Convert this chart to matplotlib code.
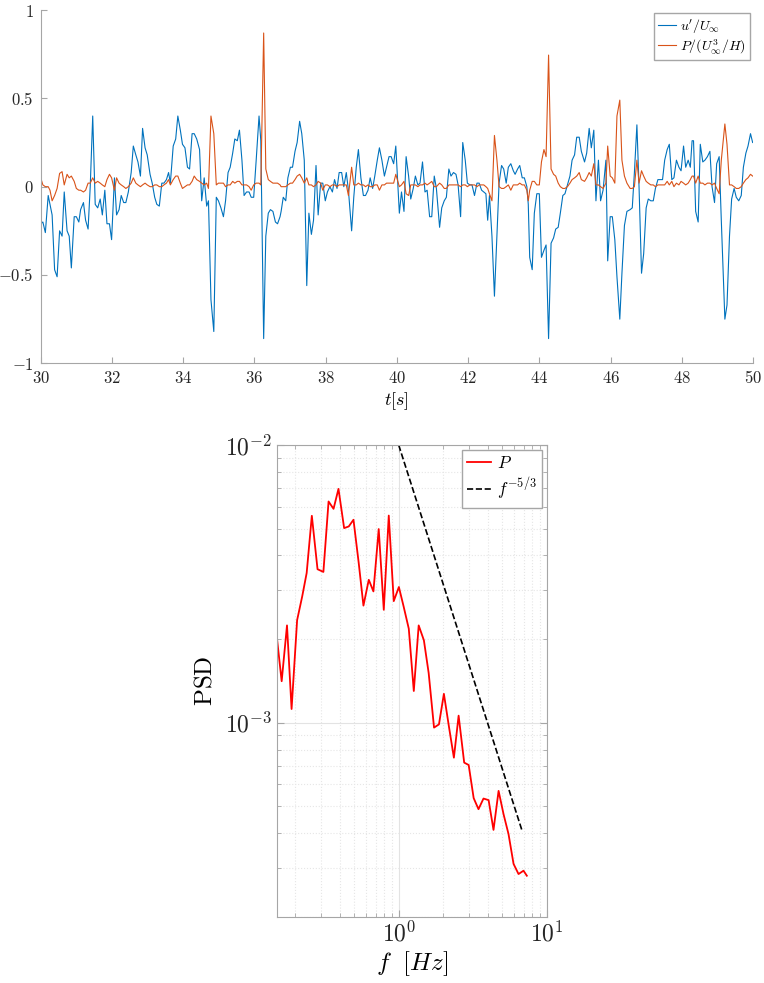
import numpy as np
import matplotlib
matplotlib.use('Agg')
import matplotlib.pyplot as plt
from matplotlib.ticker import FuncFormatter, LogLocator, NullFormatter

plt.rcParams['mathtext.fontset'] = 'cm'
plt.rcParams['font.family'] = ['DejaVu Serif']

# time series
t = [30.00, 30.06, 30.13, 30.21, 30.26, 30.32, 30.39, 30.46, 30.53, 30.60,
     30.66, 30.74, 30.80, 30.86, 30.94, 31.00, 31.07, 31.12, 31.20, 31.26,
     31.33, 31.39, 31.46, 31.53, 31.60, 31.67, 31.73, 31.80, 31.86, 31.93,
     31.99, 32.07, 32.13, 32.20, 32.26, 32.33, 32.39, 32.46, 32.54, 32.60,
     32.67, 32.73, 32.80, 32.86, 32.93, 32.99, 33.07, 33.13, 33.20, 33.26,
     33.33, 33.40,
     33.46, 33.53, 33.59, 33.64, 33.72, 33.79, 33.85, 33.92, 33.98, 34.05,
     34.12, 34.18, 34.25, 34.31, 34.38, 34.46, 34.52, 34.59, 34.66, 34.71,
     34.78, 34.86, 34.93, 34.99, 35.06, 35.13, 35.19, 35.26, 35.32, 35.39,
     35.45, 35.52, 35.58, 35.65, 35.71, 35.78, 35.85, 35.91, 35.98, 36.05,
     36.13, 36.18, 36.26, 36.32, 36.39, 36.45, 36.52, 36.59, 36.65, 36.72,
     36.75, 36.81, 36.88, 36.94, 37.01, 37.07, 37.14, 37.20, 37.27, 37.33,
     37.40, 37.47, 37.53, 37.60, 37.66, 37.73, 37.79, 37.86, 37.92, 37.99,
     38.05, 38.12, 38.19, 38.25, 38.32, 38.38, 38.45, 38.51, 38.58, 38.64,
     38.73, 38.79, 38.86, 38.92, 38.99, 39.06, 39.12, 39.19, 39.25, 39.32,
     39.38, 39.45, 39.51, 39.58, 39.65, 39.71, 39.78, 39.84, 39.91, 39.97,
     40.07, 40.13, 40.20, 40.26, 40.33, 40.39, 40.46, 40.52, 40.59, 40.65,
     40.72, 40.79, 40.85, 40.92, 40.98, 41.05, 41.11, 41.20, 41.26, 41.33,
     41.39, 41.46, 41.52, 41.59, 41.66, 41.72, 41.79, 41.85, 41.92, 41.98,
     42.05, 42.11, 42.18, 42.25, 42.31, 42.38, 42.44, 42.50, 42.55, 42.60,
     42.67, 42.74, 42.81, 42.87, 42.94, 43.00, 43.07, 43.13, 43.20, 43.27,
     43.32, 43.39, 43.45, 43.52, 43.58, 43.65, 43.69, 43.73, 43.80, 43.86,
     43.93, 44.00, 44.06, 44.13, 44.19, 44.26, 44.33, 44.40, 44.46, 44.53,
     44.59, 44.66, 44.72, 44.79, 44.86, 44.92, 44.99, 45.05, 45.12, 45.18,
     45.27, 45.33, 45.40, 45.46, 45.53, 45.59, 45.66, 45.72, 45.79, 45.87,
     45.92, 45.99, 46.05, 46.12, 46.18, 46.26, 46.32, 46.39, 46.46, 46.55,
     46.61, 46.67, 46.74, 46.80, 46.87, 46.93, 47.00, 47.06, 47.13, 47.20,
     47.26, 47.33, 47.39, 47.46, 47.52, 47.59, 47.65, 47.72, 47.78, 47.85,
     47.92, 47.98, 48.05, 48.11, 48.18, 48.24, 48.29, 48.33, 48.39, 48.46,
     48.52, 48.59, 48.65, 48.72, 48.79, 48.85, 48.92, 48.98, 49.05, 49.11,
     49.21, 49.27, 49.34, 49.40, 49.47, 49.53, 49.60, 49.67, 49.73, 49.80,
     49.86, 49.93, 49.99]

u = [-0.21, -0.20, -0.26, -0.05, -0.10, -0.16, -0.47, -0.51, -0.25, -0.28,
     -0.03, -0.25, -0.28, -0.46, -0.17, -0.17, -0.20, -0.13, -0.09, -0.19,
     -0.24, 0.00, 0.40, -0.10, -0.12, -0.07, -0.16, -0.02, -0.21, -0.21,
     -0.30, 0.05, -0.16, -0.13, -0.05, -0.09, -0.09, -0.03, 0.08, 0.23,
     0.18, 0.14, 0.06, 0.33, 0.22, 0.18, 0.07, 0.02, -0.06, -0.10,
     -0.11, 0.02,
     0.02, 0.04, 0.08, 0.02, 0.23, 0.27, 0.40, 0.32, 0.24, 0.22,
     0.11, 0.10, 0.30, 0.30, 0.27, 0.21, -0.08, 0.05, -0.11, -0.08,
     -0.64, -0.82, -0.06, -0.08, -0.12, -0.17, -0.08, 0.08, 0.11, 0.19,
     0.27, 0.26, 0.32, 0.15, -0.05, -0.03, -0.03, -0.06, -0.06, 0.15,
     0.40, 0.26, -0.86, -0.28, -0.15, -0.13, -0.14, -0.20, -0.21, -0.17,
     -0.14, -0.06, -0.08, 0.05, 0.11, 0.11, 0.20, 0.25, 0.37, 0.30,
     0.15, -0.56, -0.15, -0.27, -0.19, 0.12, -0.16, 0.02, 0.02, -0.08,
     -0.03, 0.00, -0.03, 0.04, -0.01, 0.08, 0.08, 0.00, 0.08, -0.02,
     -0.25, -0.06, 0.11, 0.21, 0.05, -0.05, -0.05, -0.02, 0.05, -0.01,
     0.06, 0.15, 0.22, 0.15, 0.06, 0.11, 0.17, 0.17, 0.13, 0.23,
     -0.15, -0.03, -0.14, 0.17, 0.06, -0.07, -0.01, 0.06, 0.01, 0.02,
     0.14, -0.03, -0.02, -0.17, -0.17, 0.06, -0.01, -0.23, -0.12, -0.08,
     -0.06, 0.10, 0.06, 0.08, 0.07, 0.01, -0.17, 0.25, 0.15, 0.02,
     0.01, 0.01, -0.05, 0.02, 0.02, -0.02, -0.03, -0.04, -0.19, -0.05,
     -0.28, -0.62, -0.28, 0.02, 0.12, 0.10, 0.02, 0.11, 0.13, 0.09,
     0.07, 0.10, 0.12, 0.05, 0.05, 0.00, -0.10, -0.40, -0.47, -0.15,
     -0.04, -0.04, -0.40, -0.36, -0.33, -0.86, -0.32, -0.29, -0.24, -0.23,
     -0.15, -0.05, -0.04, 0.01, 0.06, 0.15, 0.18, 0.28, 0.28, 0.20,
     0.14, 0.19, 0.33, 0.22, 0.32, -0.08, 0.15, -0.08, -0.02, 0.15,
     -0.42, -0.17, -0.17, -0.30, -0.51, -0.75, -0.49, -0.22, -0.14, -0.13,
     -0.12, 0.08, 0.35, 0.00, -0.49, -0.38, -0.12, -0.07, -0.08, -0.08,
     -0.01, 0.04, 0.04, 0.04, 0.15, 0.21, 0.24, 0.04, 0.05, 0.15,
     0.11, 0.09, 0.23, 0.11, 0.15, 0.11, 0.26, 0.26, -0.14, -0.20,
     0.24, 0.14, 0.15, 0.17, 0.20, 0.00, -0.09, 0.13, 0.17, -0.19,
     -0.75, -0.67, -0.28, -0.07, -0.01, -0.06, -0.08, -0.05, 0.11, 0.19,
     0.23, 0.30, 0.25]

p = [0.05, 0.01, 0.00, 0.00, -0.02, -0.08, -0.05, -0.01, 0.075, 0.085,
     0.01, 0.07, 0.05, 0.06, 0.03, -0.01, -0.02, -0.02, -0.03, -0.02,
     0.02, 0.02, 0.05, 0.02, 0.03, 0.02, 0.01, 0.00, 0.04, 0.07,
     0.05, -0.02, 0.05, 0.02, 0.01, 0.00, -0.01, 0.00, 0.02, 0.05,
     0.02, 0.01, 0.00, 0.01, 0.02, 0.01, 0.00, 0.00, 0.01, 0.01,
     0.00, 0.00,
     0.01, 0.02, 0.04, 0.01, 0.04, 0.06, 0.06, 0.02, -0.01, 0.00,
     0.01, 0.01, 0.03, 0.06, 0.04, 0.03, 0.02, 0.01, 0.02, -0.01,
     0.40, 0.30, 0.01, 0.02, 0.02, 0.02, 0.00, 0.01, 0.01, 0.03,
     0.02, 0.03, 0.03, 0.01, 0.01, 0.01, 0.00, -0.02, 0.01, 0.02,
     0.02, 0.01, 0.87, 0.10, 0.04, 0.03, 0.02, 0.02, 0.02, 0.01,
     0.00, 0.00, 0.00, 0.01, 0.02, 0.02, 0.04, 0.06, 0.07, 0.05,
     0.02, 0.05, 0.01, 0.01, 0.00, 0.01, 0.03, 0.02, -0.02, 0.01,
     0.01, 0.00, 0.01, 0.01, 0.00, 0.01, 0.01, 0.01, 0.01, -0.05,
     0.11, 0.01, 0.01, 0.02, 0.01, 0.01, 0.00, 0.01, 0.00, 0.00,
     0.01, 0.01, -0.02, 0.01, 0.01, 0.02, 0.02, 0.02, 0.02, 0.07,
     0.00, 0.01, 0.03, -0.04, -0.05, 0.01, 0.01, 0.01, 0.00, 0.01,
     0.01, 0.02, 0.01, 0.02, 0.03, 0.00, 0.00, 0.02, 0.01, -0.01,
     -0.01, 0.01, 0.01, 0.01, 0.01, 0.01, 0.00, 0.01, 0.01, 0.00,
     0.01, 0.01, 0.01, 0.00, 0.01, 0.01, 0.01, 0.00, -0.01, -0.04,
     -0.08, 0.29, 0.15, 0.00, -0.01, -0.01, 0.00, 0.01, -0.02, 0.01,
     0.01, 0.01, 0.02, 0.01, 0.01, -0.02, -0.08, -0.02, 0.03, 0.03,
     0.01, 0.01, 0.14, 0.21, 0.17, 0.745, 0.10, 0.07, 0.06, 0.02,
     0.00, -0.01, -0.01, 0.00, 0.02, 0.04, 0.05, 0.06, 0.08, 0.04,
     0.03, 0.05, 0.08, 0.06, 0.13, 0.01, 0.01, 0.00, -0.01, 0.02,
     0.23, 0.06, 0.05, 0.02, 0.40, 0.49, 0.15, 0.06, 0.02, -0.01,
     -0.01, 0.00, 0.15, 0.02, 0.09, 0.06, 0.03, 0.02, 0.01, 0.01,
     0.00, 0.01, 0.01, 0.01, 0.01, 0.03, 0.01, 0.03, 0.00, 0.02,
     0.01, 0.03, 0.02, 0.01, 0.02, 0.04, 0.06, 0.06, 0.02, 0.06,
     0.02, 0.02, 0.01, 0.02, 0.02, 0.01, 0.02, -0.01, -0.04, 0.15,
     0.355, 0.24, 0.01, 0.01, 0.00, -0.01, -0.01, 0.00, 0.02, 0.04,
     0.05, 0.07, 0.06]

# spectrum
freq = [0.150, 0.162, 0.176, 0.189, 0.206, 0.223, 0.239, 0.259, 0.283, 0.310,
        0.336, 0.363, 0.392, 0.428, 0.460, 0.495, 0.537, 0.578, 0.628, 0.675,
        0.733, 0.793, 0.857, 0.926, 1.003, 1.08, 1.17, 1.265, 1.365, 1.48,
        1.594, 1.733, 1.871, 2.02, 2.19, 2.36, 2.54, 2.77, 2.97, 3.21,
        3.46, 3.74, 4.05, 4.37, 4.73, 5.11, 5.52, 5.97, 6.45, 6.97, 7.34]
psd = [2.05e-3, 1.41e-3, 2.24e-3, 1.12e-3, 2.34e-3, 2.85e-3, 3.46e-3, 5.56e-3, 3.57e-3, 3.49e-3,
       6.26e-3, 5.89e-3, 6.95e-3, 5.02e-3, 5.09e-3, 5.38e-3, 3.76e-3, 2.64e-3, 3.27e-3, 2.97e-3,
       4.98e-3, 2.55e-3, 5.57e-3, 2.74e-3, 3.08e-3, 2.62e-3, 2.18e-3, 1.30e-3, 2.24e-3, 1.98e-3,
       1.51e-3, 9.6e-4, 9.86e-4, 1.27e-3, 9.6e-4, 7.48e-4, 1.06e-3, 7.18e-4, 7.04e-4, 5.35e-4,
       4.88e-4, 5.33e-4, 5.26e-4, 4.11e-4, 5.68e-4, 4.68e-4, 3.97e-4, 3.10e-4, 2.85e-4, 2.93e-4, 2.81e-4]

# -5/3 guide line, anchored at 1e-2 for f = 1 Hz
f_ref = np.array([1.0, 6.8])
psd_ref = 1e-2 * f_ref ** (-5 / 3)

fig = plt.figure(figsize=(7.64, 9.83), dpi=100)

# upper panel
ax1 = fig.add_axes([0.0533, 0.6304, 0.9323, 0.3594])
ax1.plot(t, u, color='#0072BD', lw=0.8, label=r"$u'/U_\infty$")
ax1.plot(t, p, color='#D95319', lw=0.8, label=r'$P/(U^3_\infty/H)$')
ax1.set_xlim(30, 50)
ax1.set_ylim(-1, 1)
ax1.set_xticks(range(30, 51, 2))
ax1.set_yticks([-1, -0.5, 0, 0.5, 1])
fmt = FuncFormatter(lambda v, _: f'${v:g}$')
ax1.xaxis.set_major_formatter(fmt)
ax1.yaxis.set_major_formatter(fmt)
for s in ['top', 'right']:
    ax1.spines[s].set_visible(False)
for s in ['left', 'bottom']:
    ax1.spines[s].set_color('#a6a6a6')
    ax1.spines[s].set_linewidth(0.8)
ax1.tick_params(direction='in', length=4, color='#a6a6a6', labelcolor='#262626',
                labelsize=12, pad=5)
ax1.set_xlabel(r'$t[s]$', fontsize=13, labelpad=2)
ax1.legend(loc='upper right', fontsize=10, fancybox=False, edgecolor='#a6a6a6',
           framealpha=1, handlelength=1.3, handletextpad=0.3, borderpad=0.3,
           labelspacing=0.15, borderaxespad=0.2)

# lower panel
ax2 = fig.add_axes([0.3622, 0.0674, 0.3534, 0.4799])
ax2.loglog(freq, psd, color='red', lw=1.3, label='$P$')
ax2.loglog(f_ref, psd_ref, 'k--', lw=1.2, label=r'$f^{-5/3}$')
ax2.set_xlim(0.15, 10)
ax2.set_ylim(2e-4, 1e-2)
ax2.grid(True, which='major', color='#e3e3e3', lw=0.8)
ax2.grid(True, which='minor', color='#e6e6e6', ls=':', lw=0.8)
ax2.set_axisbelow(True)
dec = FuncFormatter(lambda v, _: f'$10^{{{int(round(np.log10(v)))}}}$')
ax2.xaxis.set_major_locator(LogLocator(base=10))
ax2.yaxis.set_major_locator(LogLocator(base=10))
ax2.xaxis.set_major_formatter(dec)
ax2.yaxis.set_major_formatter(dec)
ax2.xaxis.set_minor_formatter(NullFormatter())
ax2.yaxis.set_minor_formatter(NullFormatter())
for s in ax2.spines.values():
    s.set_color('#a6a6a6')
    s.set_linewidth(0.8)
ax2.tick_params(which='both', direction='in', top=True, right=True,
                color='#a6a6a6', labelcolor='#262626', labelsize=17)
ax2.tick_params(which='major', length=5)
ax2.tick_params(which='minor', length=3)
ax2.set_xlabel(r'$f\ \ [Hz]$', fontsize=18, labelpad=2)
ax2.set_ylabel(r'$\mathrm{PSD}$', fontsize=18, labelpad=6)
ax2.legend(loc='upper right', fontsize=12.5, fancybox=False, edgecolor='#a6a6a6',
           framealpha=1, handlelength=1.4, handletextpad=0.3, borderpad=0.3,
           labelspacing=0.2, borderaxespad=0.3)

fig.savefig('out.png', dpi=100)
